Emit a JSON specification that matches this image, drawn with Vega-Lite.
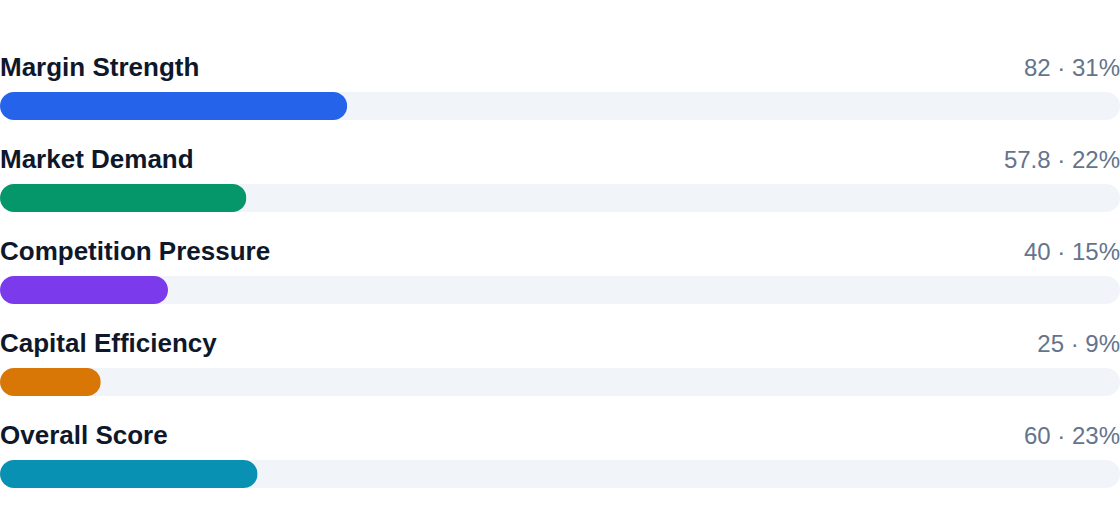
{
  "$schema": "https://vega.github.io/schema/vega-lite/v6.json",
  "width": 1120,
  "height": 460,
  "autosize": {"type": "none"},
  "padding": {"left": 0, "top": 60, "right": 0, "bottom": 4},
  "background": "#ffffff",
  "config": {
    "view": {"stroke": null},
    "font": "Liberation Sans"
  },
  "data": {
    "values": [
      {"metric": "Margin Strength", "value": "82", "pct": 31},
      {"metric": "Market Demand", "value": "57.8", "pct": 22},
      {"metric": "Competition Pressure", "value": "40", "pct": 15},
      {"metric": "Capital Efficiency", "value": "25", "pct": 9},
      {"metric": "Overall Score", "value": "60", "pct": 23}
    ]
  },
  "encoding": {
    "y": {
      "field": "metric",
      "type": "nominal",
      "sort": null,
      "axis": null,
      "scale": {"paddingInner": 0, "paddingOuter": 0}
    }
  },
  "layer": [
    {
      "mark": {"type": "bar", "size": 28, "cornerRadius": 14, "color": "#F1F5F9"},
      "encoding": {
        "x": {"datum": 0, "type": "quantitative", "scale": {"domain": [0, 100], "nice": false}, "axis": null},
        "x2": {"datum": 100}
      }
    },
    {
      "mark": {"type": "bar", "size": 28, "cornerRadius": 14},
      "encoding": {
        "x": {"field": "pct", "type": "quantitative"},
        "color": {
          "field": "metric",
          "type": "nominal",
          "legend": null,
          "scale": {
            "domain": ["Margin Strength", "Market Demand", "Competition Pressure", "Capital Efficiency", "Overall Score"],
            "range": ["#2563EB", "#059669", "#7C3AED", "#D97706", "#0891B2"]
          }
        }
      }
    },
    {
      "mark": {"type": "text", "align": "left", "baseline": "alphabetic", "dy": -30, "fontSize": 26, "fontWeight": "bold", "color": "#0F172A"},
      "encoding": {
        "x": {"datum": 0, "type": "quantitative"},
        "text": {"field": "metric"}
      }
    },
    {
      "mark": {"type": "text", "align": "right", "baseline": "alphabetic", "dy": -30, "fontSize": 24, "color": "#64748B"},
      "encoding": {
        "x": {"datum": 100, "type": "quantitative"},
        "text": {"value": {"expr": "datum.value + ' · ' + datum.pct + '%'"}}
      }
    }
  ]
}
